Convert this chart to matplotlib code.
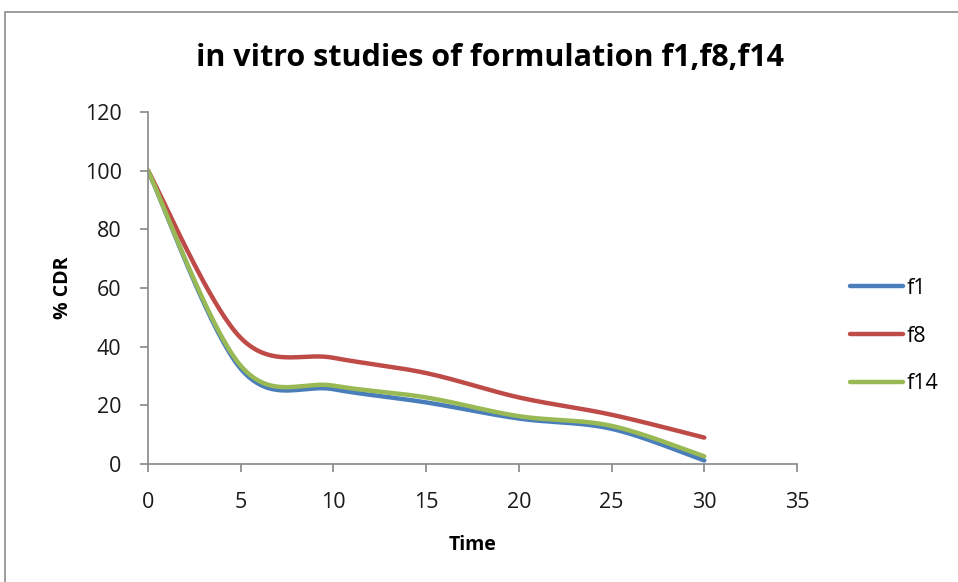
import numpy as np
import matplotlib.pyplot as plt
from matplotlib.patches import Rectangle

time = [0, 5, 10, 15, 20, 25, 30]
f1 = [100, 32.5, 25.5, 21, 15.5, 12, 1.2]
f8 = [100, 43, 36.2, 31, 22.7, 16.8, 9]
f14 = [100, 33.5, 26.7, 22.7, 16.3, 13, 2.6]


def smooth(x, y, n=40):
    # Excel-like smoothed line: cubic Bezier with Catmull-Rom control points
    x = np.asarray(x, float)
    y = np.asarray(y, float)
    px = np.concatenate([[x[0]], x, [x[-1]]])
    py = np.concatenate([[y[0]], y, [y[-1]]])
    xs, ys = [], []
    t = np.linspace(0, 1, n)
    for i in range(len(x) - 1):
        p0 = np.array([px[i + 1], py[i + 1]])
        p3 = np.array([px[i + 2], py[i + 2]])
        c1 = p0 + (np.array([px[i + 2], py[i + 2]]) - np.array([px[i], py[i]])) / 6
        c2 = p3 - (np.array([px[i + 3], py[i + 3]]) - np.array([px[i + 1], py[i + 1]])) / 6
        b = ((1 - t) ** 3)[:, None] * p0 + (3 * (1 - t) ** 2 * t)[:, None] * c1 \
            + (3 * (1 - t) * t ** 2)[:, None] * c2 + (t ** 3)[:, None] * p3
        xs.append(b[:, 0])
        ys.append(b[:, 1])
    return np.concatenate(xs), np.concatenate(ys)


plt.rcParams['font.family'] = ['Open Sans', 'DejaVu Sans']

fig = plt.figure(figsize=(9.58, 5.82), dpi=100)
fig.patches.append(Rectangle((5 / 958, -0.1), 1.1, 1 - 12 / 582 + 0.1,
                             transform=fig.transFigure, fill=False,
                             edgecolor='#8c8c8c', linewidth=1.2))
ax = fig.add_axes([148 / 958, 1 - 464 / 582, (797 - 148) / 958, (464 - 112) / 582])

for y, c, lab in [(f1, '#4a7ebb', 'f1'), (f8, '#be4b48', 'f8'), (f14, '#98b954', 'f14')]:
    sx, sy = smooth(time, y)
    ax.plot(sx, sy, color=c, linewidth=3.2, label=lab, solid_capstyle='round')

ax.set_xlim(0, 35)
ax.set_ylim(0, 120)
ax.set_xticks(np.arange(0, 36, 5))
ax.set_yticks(np.arange(0, 121, 20))
for s in ['top', 'right']:
    ax.spines[s].set_visible(False)
for s in ['left', 'bottom']:
    ax.spines[s].set_color('#888888')
    ax.spines[s].set_linewidth(1.2)
ax.tick_params(colors='#888888', labelcolor='#1a1a1a', labelsize=15.5, length=6, width=1.2)
ax.tick_params(axis='y', pad=13)
ax.tick_params(axis='x', pad=14)

ax.set_xlabel('Time', fontsize=14, fontweight='bold', labelpad=16)
ax.set_ylabel('% CDR', fontsize=14, fontweight='bold', labelpad=8)
fig.text(490 / 958, 1 - 58 / 582, 'in vitro studies of formulation f1,f8,f14',
         ha='center', va='center', fontsize=22, fontweight='bold')

ax.legend(loc='center left', bbox_to_anchor=(841 / 958, 1 - 336 / 582),
          bbox_transform=fig.transFigure, frameon=False, fontsize=15.5,
          handlelength=2.5, handletextpad=0.15, labelspacing=1.25, borderaxespad=0)

fig.savefig('out.png', dpi=100)
